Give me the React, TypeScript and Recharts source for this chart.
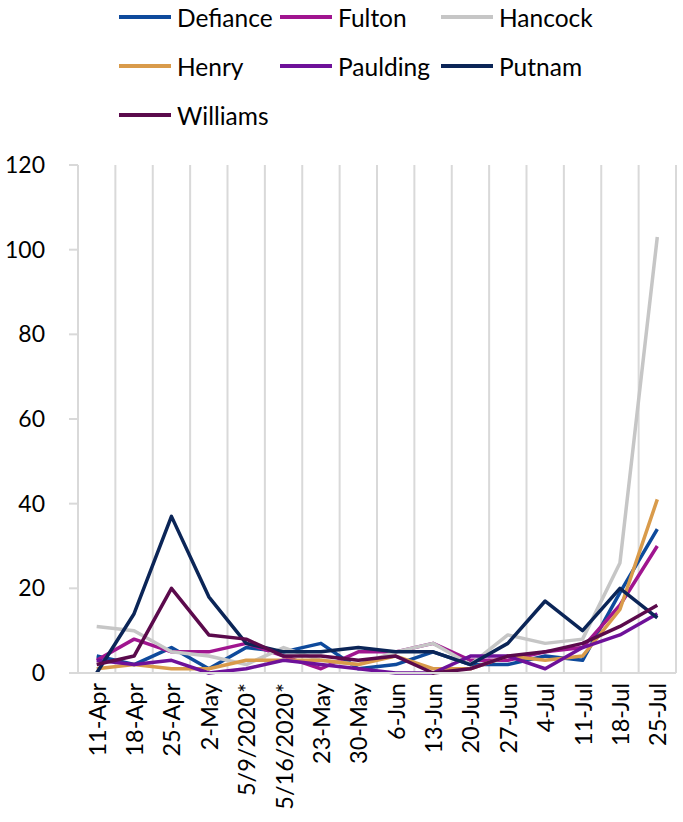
import React from "react";
import { LineChart, Line, XAxis, YAxis, CartesianGrid, Legend } from "recharts";

// Weekly counts per county
const weeks = [
  "11-Apr", "18-Apr", "25-Apr", "2-May", "5/9/2020*", "5/16/2020*", "23-May", "30-May",
  "6-Jun", "13-Jun", "20-Jun", "27-Jun", "4-Jul", "11-Jul", "18-Jul", "25-Jul",
];

const defiance = [4, 2, 6, 1, 6, 5, 7, 1, 2, 5, 2, 2, 4, 3, 19, 34];
const fulton = [3, 8, 5, 5, 7, 4, 1, 5, 5, 7, 3, 3, 5, 6, 16, 30];
const hancock = [11, 10, 5, 4, 2, 6, 3, 2, 5, 7, 2, 9, 7, 8, 26, 103];
const henry = [1, 2, 1, 1, 3, 3, 3, 2, 4, 1, 1, 4, 3, 4, 15, 41];
const paulding = [3, 2, 3, 0, 1, 3, 2, 1, 0, 0, 4, 4, 1, 6, 9, 14];
const putnam = [0, 14, 37, 18, 7, 5, 5, 6, 5, 5, 2, 7, 17, 10, 20, 13];
const williams = [2, 4, 20, 9, 8, 4, 4, 3, 4, 0, 1, 4, 5, 7, 11, 16];

const yTicks = [0, 20, 40, 60, 80, 100, 120];

const series = [
  { name: "Defiance", values: defiance, color: "#0e4a9c" },
  { name: "Fulton", values: fulton, color: "#a0158f" },
  { name: "Hancock", values: hancock, color: "#c6c6c6" },
  { name: "Henry", values: henry, color: "#d99b4b" },
  { name: "Paulding", values: paulding, color: "#6e1199" },
  { name: "Putnam", values: putnam, color: "#0b2557" },
  { name: "Williams", values: williams, color: "#5b0a4c" },
];

const data = weeks.map((week, i) => {
  const row: Record<string, string | number> = { week };
  series.forEach((s) => {
    row[s.name] = s.values[i];
  });
  return row;
});

const FONT = "Lato, 'Open Sans', sans-serif";
const GRID = "#d9d9d9";

const DateTick = ({ x, y, payload }: any) => (
  <text
    x={x}
    y={y}
    transform={`rotate(-90, ${x}, ${y})`}
    textAnchor="end"
    dominantBaseline="central"
    fontSize={23.5}
    fill="#000"
    fontFamily={FONT}
  >
    {payload.value}
  </text>
);

const LegendBox = () => (
  <div style={{ position: "relative", width: 683, height: 140, fontFamily: FONT }}>
    {series.map((s, i) => (
      <div
        key={s.name}
        style={{
          position: "absolute",
          left: 119 + (i % 3) * 161,
          top: 3 + Math.floor(i / 3) * 49,
          height: 28,
          display: "flex",
          alignItems: "center",
          whiteSpace: "nowrap",
        }}
      >
        <span style={{ display: "inline-block", width: 52, height: 4, background: s.color, marginRight: 6 }} />
        <span style={{ fontSize: 24.5, color: "#000" }}>{s.name}</span>
      </div>
    ))}
  </div>
);

export default function App() {
  return (
    <div style={{ position: "absolute", left: 0, top: 0, width: 683, height: 822, background: "#fff" }}>
      <LineChart
        width={683}
        height={822}
        data={data}
        margin={{ top: 165, right: 7, bottom: 0, left: 0 }}
      >
        <CartesianGrid
          horizontal={false}
          stroke={GRID}
          strokeWidth={2}
          verticalCoordinatesGenerator={({ offset }: any) => {
            const band = offset.width / weeks.length;
            return weeks.map((_, k) => offset.left + (k + 1) * band);
          }}
        />
        <XAxis
          dataKey="week"
          interval={0}
          padding={{ left: 18.7, right: 18.7 }}
          height={149}
          axisLine={{ stroke: GRID, strokeWidth: 2 }}
          tickLine={false}
          tickSize={5}
          tickMargin={5}
          tick={<DateTick />}
        />
        <YAxis
          width={78}
          domain={[0, 120]}
          ticks={yTicks}
          interval={0}
          axisLine={{ stroke: GRID, strokeWidth: 2 }}
          tickLine={{ stroke: GRID, strokeWidth: 2 }}
          tickSize={9}
          tickMargin={24}
          tick={{ fontSize: 23, fill: "#000", fontFamily: FONT }}
        />
        <Legend
          layout="vertical"
          verticalAlign="middle"
          align="center"
          wrapperStyle={{ top: 0, left: 0, width: 683, height: 140 }}
          content={<LegendBox />}
        />
        {series.map((s) => (
          <Line
            key={s.name}
            dataKey={s.name}
            stroke={s.color}
            strokeWidth={3.5}
            dot={false}
            activeDot={false}
            type="linear"
            strokeLinejoin="round"
            isAnimationActive={false}
          />
        ))}
      </LineChart>
    </div>
  );
}
